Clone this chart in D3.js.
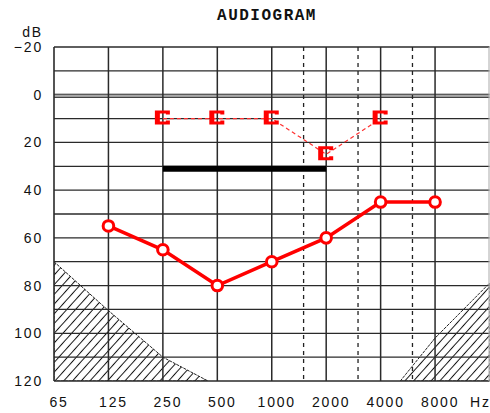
<!DOCTYPE html>
<html>
<head>
<meta charset="utf-8">
<script src="https://cdn.jsdelivr.net/npm/d3@7"></script>
<style>
  html, body { margin: 0; padding: 0; background: #fff; }
  svg { display: block; }
  .tick-label { font-family: "Liberation Sans", Arial, sans-serif; font-size: 14px; letter-spacing: 1.8px; fill: #111; }
  .title { font-family: "Liberation Mono", "Courier New", monospace; font-size: 16px; font-weight: bold; letter-spacing: 1.5px; fill: #111; }
</style>
</head>
<body>
<svg id="chart" width="490" height="413"></svg>
<script>
// Frequency axis (Hz) and its printed labels
const freqTicks  = [62.5, 125, 250, 500, 1000, 2000, 4000, 8000];
const freqLabels = ["65", "125", "250", "500", "1000", "2000", "4000", "8000"];
const halfOctaves = [1500, 3000, 6000];

// Hearing level axis (dB HL)
const dbTicks  = [-20, 0, 20, 40, 60, 80, 100, 120];
const dbGrid   = [-20, -10, 0, 10, 20, 30, 40, 50, 60, 70, 80, 90, 100, 110, 120];

// Air conduction thresholds (circles, solid line)
const airFreq = [125, 250, 500, 1000, 2000, 4000, 8000];
const airDb   = [55, 65, 80, 70, 60, 45, 45];

// Masked bone conduction thresholds (brackets, dotted line)
const boneFreq = [250, 500, 1000, 2000, 4000];
const boneDb   = [10, 10, 10, 25, 10];

// Speech band bar
const barFreq = [250, 2000];
const barDb   = 31;

// Limits of the audiometer output (hatched)
const lowLimitFreq  = [62.5, 125, 250, 444];
const lowLimitDb    = [70, 90.5, 110, 120];
const highLimitFreq = [5140, 8000, 16000];
const highLimitDb   = [120, 102, 79];

const svg = d3.select("#chart");

const x = d3.scaleLog().base(2).domain([62.5, 16000]).range([54, 489.5]);
const y = d3.scaleLinear().domain([-20, 120]).range([47, 381]);

// hatch pattern
const defs = svg.append("defs");
defs.append("pattern")
  .attr("id", "hatch")
  .attr("patternUnits", "userSpaceOnUse")
  .attr("width", 6.5).attr("height", 6.5)
  .attr("patternTransform", "rotate(42)")
  .append("line")
  .attr("x1", 3.25).attr("y1", -1).attr("x2", 3.25).attr("y2", 7.5)
  .attr("stroke", "#111").attr("stroke-width", 1);

defs.append("clipPath").attr("id", "plotClip")
  .append("rect")
  .attr("x", x.range()[0]).attr("y", y.range()[0])
  .attr("width", x.range()[1] - x.range()[0])
  .attr("height", y.range()[1] - y.range()[0]);

// Title
svg.append("text").attr("class", "title")
  .attr("x", 267).attr("y", 20).attr("text-anchor", "middle")
  .text("AUDIOGRAM");

// Hatched regions
const area = svg.append("g").attr("clip-path", "url(#plotClip)");
const lowPts = lowLimitFreq.map((f, i) => [x(f), y(lowLimitDb[i])]);
lowPts.push([x(62.5), y(120)]);
area.append("path")
  .attr("d", "M" + lowPts.map(p => p.join(",")).join("L") + "Z")
  .attr("fill", "url(#hatch)")
  .attr("stroke", "#222").attr("stroke-width", 1).attr("stroke-dasharray", "3,1");
const highPts = highLimitFreq.map((f, i) => [x(f), y(highLimitDb[i])]);
highPts.push([x(16000), y(120)]);
area.append("path")
  .attr("d", "M" + highPts.map(p => p.join(",")).join("L") + "Z")
  .attr("fill", "url(#hatch)")
  .attr("stroke", "#222").attr("stroke-width", 1).attr("stroke-dasharray", "3,1");

// Grid
const grid = svg.append("g");
grid.selectAll("line.h").data(dbGrid.filter(d => d !== 0)).join("line")
  .attr("x1", x.range()[0]).attr("x2", x.range()[1])
  .attr("y1", d => y(d)).attr("y2", d => y(d))
  .attr("stroke", "#2a2a2a").attr("stroke-width", 1.3);

// zero reference: double line with grey band
grid.append("rect")
  .attr("x", x.range()[0]).attr("width", x.range()[1] - x.range()[0])
  .attr("y", y(0) - 0.5).attr("height", 3)
  .attr("fill", "#aaa");
grid.append("line")
  .attr("x1", x.range()[0]).attr("x2", x.range()[1])
  .attr("y1", y(0) - 0.5).attr("y2", y(0) - 0.5)
  .attr("stroke", "#333").attr("stroke-width", 1);
grid.append("line")
  .attr("x1", x.range()[0]).attr("x2", x.range()[1])
  .attr("y1", y(0) + 2.7).attr("y2", y(0) + 2.7)
  .attr("stroke", "#333").attr("stroke-width", 1);

grid.selectAll("line.v").data(freqTicks).join("line")
  .attr("x1", d => x(d)).attr("x2", d => x(d))
  .attr("y1", y.range()[0]).attr("y2", y.range()[1])
  .attr("stroke", "#2a2a2a").attr("stroke-width", d => d === 62.5 ? 1.6 : 1.5);

grid.selectAll("line.hv").data(halfOctaves).join("line")
  .attr("x1", d => x(d)).attr("x2", d => x(d))
  .attr("y1", y.range()[0]).attr("y2", y.range()[1])
  .attr("stroke", "#222").attr("stroke-width", 1.3)
  .attr("stroke-dasharray", "4,4");

// right frame edge
grid.append("line")
  .attr("x1", x.range()[1] - 0.5).attr("x2", x.range()[1] - 0.5)
  .attr("y1", y.range()[0]).attr("y2", y.range()[1])
  .attr("stroke", "#aaa").attr("stroke-width", 1);

// Axis labels
svg.append("g").selectAll("text").data(dbTicks).join("text")
  .attr("class", "tick-label")
  .attr("x", 43).attr("y", d => y(d)).attr("dy", "0.36em")
  .attr("text-anchor", "end")
  .text(d => d < 0 ? "\u2212" + Math.abs(d) : d);
svg.append("text").attr("class", "tick-label")
  .attr("x", 43).attr("y", 37).attr("text-anchor", "end").text("dB");

svg.append("g").selectAll("text").data(freqTicks).join("text")
  .attr("class", "tick-label")
  .attr("x", d => x(d) + 5).attr("y", 407)
  .attr("text-anchor", "middle")
  .text((d, i) => freqLabels[i]);
svg.append("text").attr("class", "tick-label")
  .attr("x", 470).attr("y", 407).text("Hz");

// Speech bar
svg.append("line")
  .attr("x1", x(barFreq[0])).attr("x2", x(barFreq[1]))
  .attr("y1", y(barDb)).attr("y2", y(barDb))
  .attr("stroke", "#000").attr("stroke-width", 6);

// Bone conduction: dotted connector and bracket markers
const bonePts = boneFreq.map((f, i) => [x(f), y(boneDb[i])]);
svg.append("path")
  .attr("d", d3.line()(bonePts))
  .attr("fill", "none").attr("stroke", "#ff3030").attr("stroke-width", 1.2)
  .attr("stroke-dasharray", "4,3");
const bracket = "M-8,-8H7V-4H3V-5H-3V3H3V2H7V6H-8Z";
svg.append("g").selectAll("path").data(bonePts).join("path")
  .attr("transform", d => `translate(${d[0]},${d[1]})`)
  .attr("d", bracket)
  .attr("fill", "#ff0000");

// Air conduction: solid line and circle markers
const airPts = airFreq.map((f, i) => [x(f), y(airDb[i])]);
svg.append("path")
  .attr("d", d3.line()(airPts))
  .attr("fill", "none").attr("stroke", "#ff0000").attr("stroke-width", 3.5);
svg.append("g").selectAll("circle").data(airPts).join("circle")
  .attr("cx", d => d[0]).attr("cy", d => d[1]).attr("r", 5.3)
  .attr("fill", "#fff").attr("stroke", "#ff0000").attr("stroke-width", 3);
</script>
</body>
</html>
